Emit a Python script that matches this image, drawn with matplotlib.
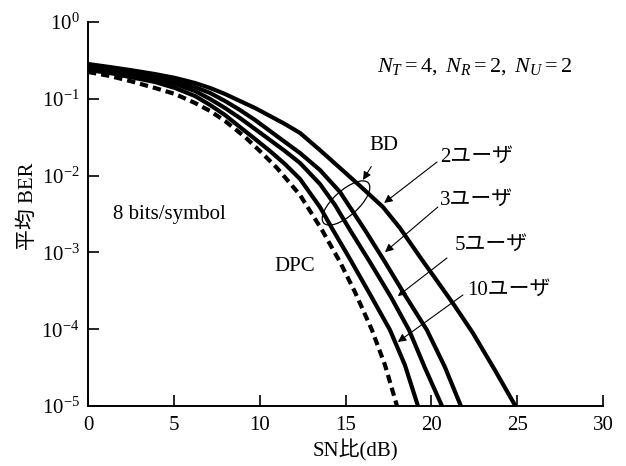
import numpy as np
import matplotlib
matplotlib.use("Agg")
import matplotlib.pyplot as plt
from matplotlib.patches import Ellipse
from matplotlib.transforms import ScaledTranslation

plt.rcParams['font.family'] = ['Liberation Serif', 'Noto Sans CJK JP']
plt.rcParams['mathtext.fontset'] = 'custom'
plt.rcParams['mathtext.rm'] = 'Liberation Serif'
plt.rcParams['mathtext.it'] = 'Liberation Serif:italic'
plt.rcParams['axes.unicode_minus'] = True

# ---- data (SNR in dB, average BER) ----
x_2u = [0, 1.28, 2.45, 3.90, 5.07, 6.23, 7.11, 7.98, 8.85, 9.73, 10.60, 11.47, 12.35,
        13.51, 14.68, 15.85, 17.18, 18.17, 19.34, 20.50, 21.37, 22.42, 23.70, 24.9]
ber_2u = [0.284, 0.259, 0.237, 0.210, 0.187, 0.1606, 0.1383, 0.1155, 0.0936, 0.0759, 0.0597, 0.0470, 0.0359,
          0.0215, 0.01256, 7.32e-3, 3.90e-3, 2.08e-3, 8.71e-4, 3.77e-4, 2.00e-4, 8.93e-5, 2.94e-5, 1.0e-5]

x_3u = [0, 1.28, 2.45, 3.90, 5.07, 6.23, 7.11, 7.98, 8.85, 9.73, 10.60, 11.47, 12.35,
        13.51, 14.68, 16.13, 17.30, 18.46, 19.74, 20.79, 21.72]
ber_3u = [0.267, 0.2444, 0.2234, 0.198, 0.1705, 0.1425, 0.119, 0.0936, 0.0715, 0.0530, 0.0381, 0.0274, 0.01968,
          0.01183, 6.11e-3, 1.96e-3, 7.50e-4, 2.79e-4, 9.77e-5, 3.22e-5, 1.0e-5]

x_5u = [0, 1.28, 2.45, 3.90, 5.07, 6.23, 7.11, 7.98, 8.85, 9.73, 10.60, 11.47, 12.35,
        13.51, 14.39, 15.26, 16.42, 17.65, 18.70, 19.63, 20.62]
ber_5u = [0.2518, 0.2301, 0.2104, 0.181, 0.1558, 0.1264, 0.0994, 0.0759, 0.0562, 0.0404, 0.0291, 0.0209, 0.01459,
          7.78e-3, 4.14e-3, 1.96e-3, 7.50e-4, 2.62e-4, 9.77e-5, 3.13e-5, 1.0e-5]

x_10u = [0, 1.28, 2.45, 3.90, 5.07, 6.23, 7.11, 7.98, 8.85, 9.73, 10.60, 11.47, 12.35,
         13.51, 14.27, 15.26, 16.42, 17.59, 18.46, 19.22]
ber_10u = [0.2371, 0.2168, 0.1922, 0.1655, 0.1383, 0.1088, 0.0831, 0.0615, 0.0429, 0.02997, 0.0209, 0.01416, 9.04e-3,
           3.90e-3, 1.96e-3, 8.20e-4, 2.87e-4, 9.77e-5, 3.42e-5, 1.0e-5]

x_dpc = [0, 1.28, 2.45, 3.90, 5.07, 6.23, 7.11, 7.98, 9.15, 10.13, 11.01, 12.35,
         13.63, 14.68, 15.55, 16.54, 17.30, 18.0]
ber_dpc = [0.2234, 0.198, 0.1705, 0.1383, 0.1155, 0.0882, 0.0694, 0.0514, 0.0318, 0.0197, 0.01256, 5.59e-3,
           1.96e-3, 7.50e-4, 3.05e-4, 9.77e-5, 3.42e-5, 1.0e-5]

xticks = [0, 5, 10, 15, 20, 25, 30]
yticks = [1e-5, 1e-4, 1e-3, 1e-2, 1e-1, 1e0]
ytick_labels = [r'$10^{-5}$', r'$10^{-4}$', r'$10^{-3}$', r'$10^{-2}$', r'$10^{-1}$', r'$10^{0}$']

fig = plt.figure(figsize=(6.26, 4.66), dpi=100)
ax = fig.add_axes([88/626, 1-406/466, (603-88)/626, (406-22)/466])

lw = 3.0
for xs, ys in [(x_2u, ber_2u), (x_3u, ber_3u), (x_5u, ber_5u), (x_10u, ber_10u)]:
    ax.plot(xs, ys, color='black', lw=lw, solid_capstyle='butt', solid_joinstyle='round')
ax.plot(x_dpc, ber_dpc, color='black', lw=lw, dashes=(2.0, 1.2))

ax.set_yscale('log')
ax.set_xlim(0, 30)
ax.set_ylim(1e-5, 1)
ax.set_xticks(xticks)
ax.set_xticklabels([str(t) for t in xticks])
ax.set_yticks(yticks)
ax.set_yticklabels(ytick_labels)
ax.yaxis.set_minor_locator(matplotlib.ticker.NullLocator())

for s in ['top', 'right']:
    ax.spines[s].set_visible(False)
for s in ['left', 'bottom']:
    ax.spines[s].set_linewidth(1.4)
ax.tick_params(direction='in', length=8, width=1.2, labelsize=15, pad=6)
ax.tick_params(axis='x', pad=7)

fs = 15
ax.set_xlabel('SN比(dB)', fontsize=fs)
ax.xaxis.set_label_coords(0.52, -0.088)
ax.set_ylabel('平均 BER', fontsize=fs)
ax.yaxis.set_label_coords(-0.097, 0.52)

ax.text(16.83, 0.2594, r'$N_T = 4,\ N_R = 2,\ N_U = 2$', fontsize=16, ha='left', va='center')
ax.text(1.46, 3.16e-3, '8 bits/symbol', fontsize=fs, ha='left', va='center')
ax.text(12.06, 6.65e-4, 'DPC', fontsize=fs, ha='center', va='center')

arrow = dict(arrowstyle='-|>', lw=0.8, color='black', mutation_scale=12, shrinkA=0, shrinkB=0)
ax.annotate('BD', xy=(16.02, 8.77e-3), xytext=(17.24, 0.0243), fontsize=fs,
            ha='center', va='center', arrowprops=dict(arrow, shrinkA=7))
ax.text(20.5, 0.01746, '2ユーザ', fontsize=fs, ha='left', va='center')
ax.annotate('', xy=(17.25, 4.4e-3), xytext=(20.33, 0.01503), arrowprops=arrow)
ax.text(20.5, 4.81e-3, '3ユーザ', fontsize=fs, ha='left', va='center')
ax.annotate('', xy=(17.3, 1.01e-3), xytext=(20.38, 3.9e-3), arrowprops=arrow)
ax.text(21.37, 1.25e-3, '5ユーザ', fontsize=fs, ha='left', va='center')
ax.annotate('', xy=(18.05, 2.70e-4), xytext=(20.91, 8.45e-4), arrowprops=arrow)
ax.text(22.07, 3.24e-4, '10ユーザ', fontsize=fs, ha='left', va='center')
ax.annotate('', xy=(18.05, 6.81e-5), xytext=(21.84, 2.79e-4), arrowprops=arrow)

trans = fig.dpi_scale_trans + ScaledTranslation(15.03, 4.4e-3, ax.transData)
ell = Ellipse((0, 0), 0.60, 0.25, angle=42, transform=trans, fill=False, lw=0.9, color='black')
ax.add_patch(ell)

fig.savefig('out.png', dpi=100)
